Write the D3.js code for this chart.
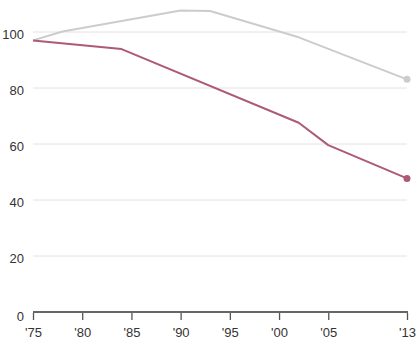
<!DOCTYPE html>
<html>
<head>
<meta charset="utf-8">
<script src="https://cdn.jsdelivr.net/npm/d3@7"></script>
<style>
  body { margin: 0; background: #fff; }
  svg { display: block; font-family: "Liberation Sans", Arial, sans-serif; }
</style>
</head>
<body>
<svg id="chart"></svg>
<script>
// years and values
const grayYears = [1975, 1978, 1990, 1993, 2002, 2013];
const grayValues = [97, 100.2, 107.7, 107.5, 98.1, 83.1];
const redYears = [1975, 1984, 2002, 2005, 2013];
const redValues = [97, 93.9, 67.6, 59.6, 47.7];
const yTicks = [0, 20, 40, 60, 80, 100];
const xTicks = [1975, 1980, 1985, 1990, 1995, 2000, 2005, 2013];

const w = 418;
const h = 346;
const margin = { top: 32, right: 11, bottom: 34, left: 33 };

const svg = d3.select("#chart").attr("width", w).attr("height", h);

//scales
const x = d3.scaleLinear()
  .domain([1975, 2013])
  .range([margin.left, w - margin.right]);
const y = d3.scaleLinear()
  .domain([0, 100])
  .range([h - margin.bottom, margin.top]);

//gridlines
svg.append("g")
  .selectAll("line")
  .data(yTicks.filter((d) => d > 0))
  .enter()
  .append("line")
  .attr("x1", margin.left)
  .attr("x2", w - margin.right)
  .attr("y1", (d) => y(d))
  .attr("y2", (d) => y(d))
  .attr("stroke", "#e2e2e2")
  .attr("stroke-width", 1);

//y labels
svg.append("g")
  .selectAll("text")
  .data(yTicks)
  .enter()
  .append("text")
  .attr("x", 24)
  .attr("y", (d) => y(d) + (d === 0 ? 4 : 2))
  .attr("dy", "0.35em")
  .attr("text-anchor", "end")
  .attr("font-size", 13)
  .attr("fill", "#333")
  .text((d) => d);

//x axis
const xAxis = d3.axisBottom(x)
  .tickValues(xTicks)
  .tickSize(7)
  .tickPadding(8)
  .tickFormat((d) => "'" + String(d).slice(2));

const gx = svg.append("g")
  .attr("transform", `translate(0, ${y(0) + 1})`)
  .call(xAxis);
gx.select(".domain").remove();
gx.selectAll(".tick line").attr("stroke", "#555").attr("stroke-width", 1.3);
gx.selectAll(".tick text")
  .attr("font-size", 13)
  .attr("fill", "#333")
  .attr("font-family", "Liberation Sans, Arial, sans-serif");

svg.append("line")
  .attr("x1", x(1975))
  .attr("x2", x(2013) + 1)
  .attr("y1", y(0))
  .attr("y2", y(0))
  .attr("stroke", "#666")
  .attr("stroke-width", 2);

//lines
const drawLine = (years, values, color) => {
  const pts = years.map((d, i) => [d, values[i]]);
  svg.append("path")
    .datum(pts)
    .attr("fill", "none")
    .attr("stroke", color)
    .attr("stroke-width", 2)
    .attr("stroke-linejoin", "round")
    .attr("d", d3.line().x((d) => x(d[0])).y((d) => y(d[1])));
  const last = pts[pts.length - 1];
  svg.append("circle")
    .attr("cx", x(last[0]))
    .attr("cy", y(last[1]))
    .attr("r", 3.5)
    .attr("fill", color);
};

drawLine(grayYears, grayValues, "#cccccc");
drawLine(redYears, redValues, "#ad5a78");
</script>
</body>
</html>
